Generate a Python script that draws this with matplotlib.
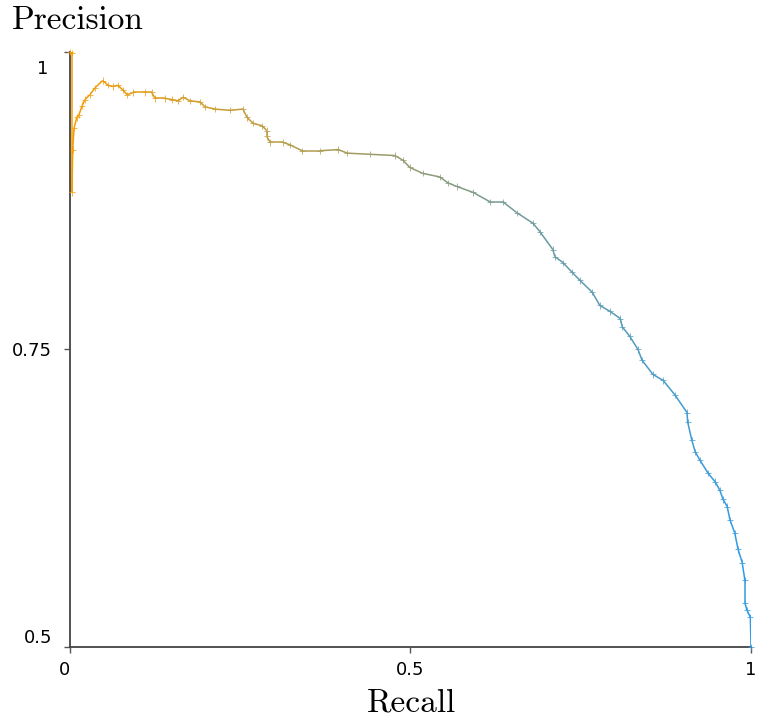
import matplotlib
matplotlib.use("Agg")
import matplotlib.pyplot as plt
import matplotlib.transforms as mtransforms
import numpy as np
from matplotlib.collections import LineCollection
from matplotlib.colors import LinearSegmentedColormap

# precision / recall points
recall = [0.000, 0.003, 0.003, 0.004, 0.006, 0.010, 0.013, 0.018, 0.022, 0.029,
          0.037, 0.048, 0.056, 0.063, 0.070, 0.078, 0.084, 0.093, 0.110, 0.120,
          0.125, 0.140, 0.150, 0.159, 0.166, 0.176, 0.191, 0.198, 0.213, 0.235,
          0.254, 0.260, 0.269, 0.282, 0.289, 0.289, 0.294, 0.313, 0.323, 0.341,
          0.367, 0.394, 0.407, 0.441, 0.477, 0.489, 0.499, 0.518, 0.543, 0.555,
          0.568, 0.592, 0.617, 0.636, 0.656, 0.680, 0.690, 0.709, 0.712, 0.724,
          0.737, 0.749, 0.767, 0.778, 0.793, 0.808, 0.811, 0.822, 0.834, 0.840,
          0.856, 0.871, 0.888, 0.906, 0.907, 0.913, 0.918, 0.925, 0.937, 0.947,
          0.954, 0.959, 0.965, 0.969, 0.976, 0.981, 0.987, 0.991, 0.991, 0.994,
          0.999, 1.000]
precision = [1.000, 0.999, 0.882, 0.918, 0.936, 0.945, 0.947, 0.955, 0.960, 0.964,
             0.970, 0.976, 0.972, 0.971, 0.972, 0.968, 0.964, 0.966, 0.966, 0.966,
             0.961, 0.961, 0.960, 0.959, 0.962, 0.959, 0.958, 0.954, 0.952, 0.951,
             0.952, 0.945, 0.940, 0.938, 0.934, 0.929, 0.924, 0.924, 0.922, 0.917,
             0.917, 0.918, 0.915, 0.914, 0.913, 0.909, 0.903, 0.898, 0.895, 0.890,
             0.887, 0.882, 0.874, 0.874, 0.865, 0.856, 0.849, 0.834, 0.828, 0.823,
             0.815, 0.808, 0.798, 0.787, 0.782, 0.776, 0.769, 0.761, 0.750, 0.741,
             0.729, 0.724, 0.712, 0.697, 0.689, 0.674, 0.664, 0.657, 0.646, 0.639,
             0.632, 0.624, 0.618, 0.607, 0.596, 0.582, 0.571, 0.556, 0.537, 0.531,
             0.525, 0.500]

x_ticks = [0, 0.5, 1]
x_ticklabels = ["0", "0.5", "1"]
y_ticks = [0.5, 0.75, 1]
y_ticklabels = ["0.5", "0.75", "1"]

x = np.array(recall)
y = np.array(precision)

cmap = LinearSegmentedColormap.from_list("pr", ["#f59c00", "#2e9be6"])

fig = plt.figure(figsize=(7.58, 7.20), dpi=100)
ax = fig.add_axes([0.0923, 0.1014, 0.8985, 0.8264])

# gradient line, coloured by recall
pts = np.column_stack([x, y]).reshape(-1, 1, 2)
segs = np.concatenate([pts[:-1], pts[1:]], axis=1)
lc = LineCollection(segs, cmap=cmap, linewidths=1.1, zorder=3)
lc.set_array((x[:-1] + x[1:]) / 2)
lc.set_clim(0, 1)
ax.add_collection(lc)
ax.scatter(x, y, c=x, cmap=cmap, vmin=0, vmax=1, marker="+", s=20,
           linewidths=0.7, alpha=0.75, zorder=4, clip_on=False)

ax.set_xlim(0, 1)
ax.set_ylim(0.5, 1)

for side in ["top", "right"]:
    ax.spines[side].set_visible(False)
for side in ["left", "bottom"]:
    ax.spines[side].set_color("#444444")
    ax.spines[side].set_linewidth(1.3)

ax.set_xticks(x_ticks)
ax.set_xticklabels(x_ticklabels, fontsize=13)
ax.set_yticks(y_ticks)
ax.set_yticklabels(y_ticklabels, fontsize=13)
ax.tick_params(axis="both", length=4, width=1, color="#555555", pad=6)
ax.tick_params(axis="y", pad=9)

# nudge the end labels inward like the reference
labs = ax.get_yticklabels()
labs[0].set_va("bottom")
labs[2].set_va("top")
labs[2].set_transform(labs[2].get_transform() +
                      mtransforms.ScaledTranslation(-0.04, -0.08, fig.dpi_scale_trans))
ax.get_xticklabels()[0].set_ha("right")

fig.text(0.016, 0.972, "Precision", family="cmr10", fontsize=24, va="center", ha="left")
fig.text(0.543, 0.023, "Recall", family="cmr10", fontsize=24, va="center", ha="center")

fig.savefig("out.png", dpi=100)
